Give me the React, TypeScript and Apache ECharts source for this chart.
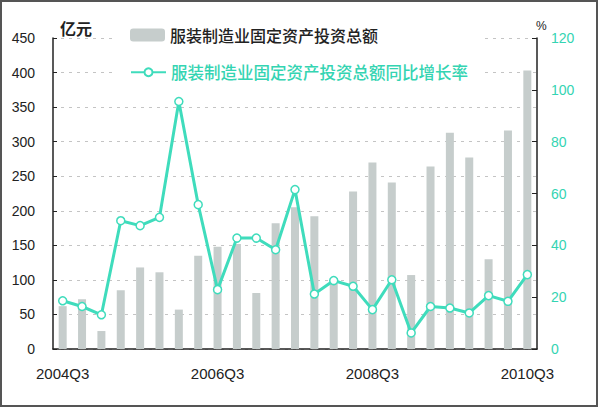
import React, { useEffect, useRef } from "react";
import * as echarts from "echarts";

const categories = [
  "2004Q3", "2004Q4", "2005Q1", "2005Q2", "2005Q3", "2005Q4", "2006Q1", "2006Q2",
  "2006Q3", "2006Q4", "2007Q1", "2007Q2", "2007Q3", "2007Q4", "2008Q1", "2008Q2",
  "2008Q3", "2008Q4", "2009Q1", "2009Q2", "2009Q3", "2009Q4", "2010Q1", "2010Q2",
  "2010Q3",
];
const amount = [62, 72, 26, 85, 118, 111, 57, 135, 148, 152, 81, 182, 205, 192, 100, 228, 270, 241, 107, 264, 313, 277, 130, 316, 403];
const growth = [18.6, 16.4, 13.2, 49.5, 47.6, 50.8, 95.5, 55.7, 22.9, 42.8, 42.8, 38.3, 61.5, 21.2, 26.4, 24.2, 15.2, 26.7, 6.2, 16.4, 15.8, 13.9, 20.6, 18.4, 28.7];

const barName = "服装制造业固定资产投资总额";
const lineName = "服装制造业固定资产投资总额同比增长率";

const TEAL = "#3fdcbc";
const TEAL_TEXT = "#34d4b2";
const BAR = "#c6cdcc";
const FONT = "'Liberation Sans', Arial, sans-serif";
const CJK = "'Noto Sans CJK SC', sans-serif";

export default function App() {
  const ref = useRef<HTMLDivElement>(null);
  useEffect(() => {
    if (!ref.current) return;
    const chart = echarts.init(ref.current, undefined, { renderer: "svg" });
    chart.setOption({
      animation: false,
      backgroundColor: "#fff",
      grid: { left: 53, right: 63, top: 38, bottom: 60 },
      graphic: [
        {
          type: "rect",
          z: 1,
          shape: { x: 112, y: 20, width: 370, height: 64 },
          style: { fill: "#fff" },
        },
        {
          type: "rect",
          z: 10,
          shape: { x: 1, y: 1, width: 596, height: 405 },
          style: { fill: "none", stroke: "#555", lineWidth: 2 },
        },
        {
          type: "text",
          z: 10,
          x: 60,
          y: 20,
          style: { text: "亿元", font: `bold 16px ${CJK}`, fill: "#222" },
        },
        {
          type: "text",
          z: 10,
          x: 536,
          y: 20,
          style: { text: "%", font: `12px ${FONT}`, fill: "#222" },
        },
      ],
      legend: [
        {
          data: [barName],
          left: 125,
          top: 22,
          z: 5,
          itemWidth: 35,
          itemHeight: 13,
          itemGap: 6,
          textStyle: { fontSize: 16, fontWeight: 500, color: "#222", fontFamily: CJK },
        },
        {
          data: [lineName],
          left: 125,
          top: 59,
          z: 5,
          itemWidth: 35,
          itemHeight: 10,
          textStyle: { fontSize: 16.5, fontWeight: 500, color: TEAL_TEXT, fontFamily: CJK },
        },
      ],
      xAxis: {
        type: "category",
        data: categories,
        boundaryGap: true,
        axisLine: { lineStyle: { color: "#222", width: 1.5 } },
        axisTick: { inside: true, interval: 1, alignWithLabel: false, length: 4, lineStyle: { color: "#222" } },
        axisLabel: { interval: 7, margin: 17, fontSize: 15, color: "#222", fontFamily: FONT },
        splitLine: { show: false },
      },
      yAxis: [
        {
          type: "value",
          min: 0,
          max: 450,
          interval: 50,
          axisLine: { show: true, lineStyle: { color: "#222", width: 1.5 } },
          axisTick: { show: true, inside: true, length: 4, lineStyle: { color: "#222" } },
          axisLabel: { margin: 18, fontSize: 14, color: "#222", fontFamily: FONT },
          splitLine: { show: true, lineStyle: { color: "#c4c4c4", type: [3, 5], width: 1.2 } },
        },
        {
          type: "value",
          min: 0,
          max: 120,
          interval: 20,
          position: "right",
          axisLine: { show: true, lineStyle: { color: "#222", width: 1.5 } },
          axisTick: { show: true, inside: true, length: 5, lineStyle: { color: "#222" } },
          axisLabel: { margin: 14, fontSize: 14, color: TEAL_TEXT, fontFamily: FONT },
          splitLine: { show: false },
        },
      ],
      series: [
        {
          name: barName,
          type: "bar",
          data: amount,
          barWidth: 8,
          itemStyle: { color: BAR },
          z: 2,
        },
        {
          name: lineName,
          type: "line",
          yAxisIndex: 1,
          data: growth,
          symbol: "circle",
          symbolSize: 8,
          showAllSymbol: true,
          lineStyle: { color: TEAL, width: 3 },
          itemStyle: { color: "#fff", borderColor: TEAL, borderWidth: 1.5 },
          z: 3,
        },
      ],
    });
    return () => chart.dispose();
  }, []);
  return (
    <div
      ref={ref}
      style={{ position: "fixed", left: 0, top: 0, width: 600, height: 409 }}
    />
  );
}
